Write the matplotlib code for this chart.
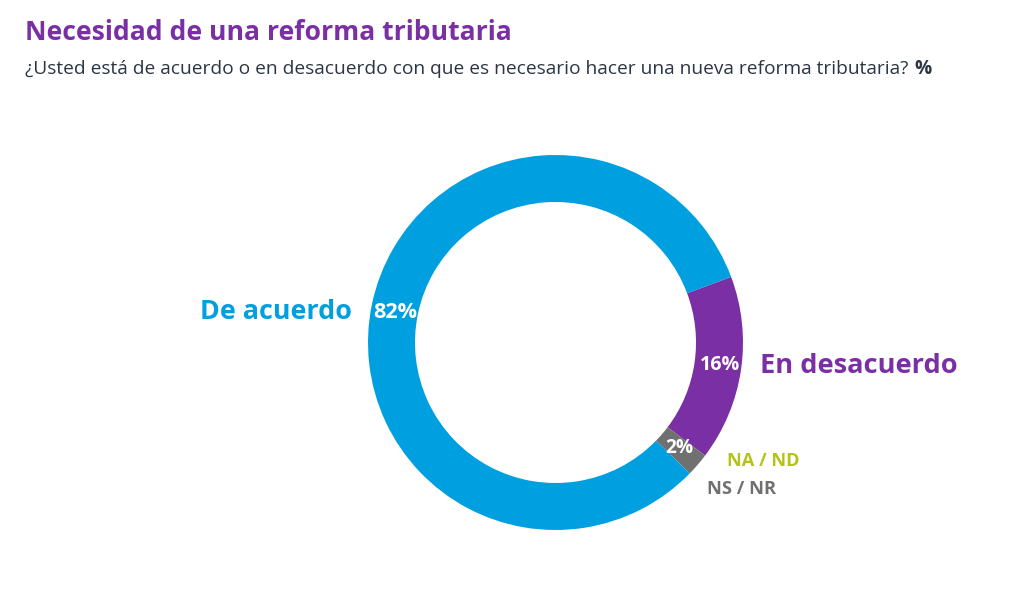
import matplotlib
matplotlib.use("Agg")
import matplotlib.pyplot as plt

# Data
categories = ["En desacuerdo", "NA / ND", "NS / NR", "De acuerdo"]
values = [16, 0, 2, 82]
colors = ["#7B2FA5", "#B5C21A", "#707070", "#009FDF"]
title = "Necesidad de una reforma tributaria"
subtitle = "¿Usted está de acuerdo o en desacuerdo con que es necesario hacer una nueva reforma tributaria?"

W, H = 1024, 601
fig = plt.figure(figsize=(W / 100, H / 100), dpi=100)
ax = fig.add_axes([0, 0, 1, 1])

cx, cy = 555.5, H - 342.5
R = 187.5
width = 47

ax.pie(values, colors=colors, startangle=20.5, counterclock=False,
       center=(cx, cy), radius=R, wedgeprops=dict(width=width, linewidth=0))
ax.set_xlim(0, W)
ax.set_ylim(0, H)
ax.set_aspect("equal")
ax.axis("off")

renderer = fig.canvas.get_renderer()

def py(y):
    return H - y

def fit(x, y, s, target_w, size, ha="left", **kw):
    t = ax.text(x, py(y), s, fontsize=size, ha=ha, va="center", **kw)
    w = t.get_window_extent(renderer).width
    t.set_fontsize(size * target_w / w)
    return t

fam = ["Open Sans", "DejaVu Sans"]
fit(25, 33, title, 485, 20, fontweight="bold", color="#7B2FA5", family=fam)
t = fit(25, 69, subtitle, 880, 13, color="#2B3544", family=fam)
bb = t.get_window_extent(renderer)
ax.text(bb.x1 + 6, py(69), "%", fontsize=t.get_fontsize(), fontweight="bold",
        color="#2B3544", family=fam, va="center", ha="left")

lab = dict(family=fam, fontweight="bold")
# Category labels
fit(352, 312, categories[3], 152, 18, ha="right", color=colors[3], **lab)
fit(760, 366, categories[0], 198, 18, ha="left", color=colors[0], **lab)
fit(727, 461, categories[1], 73, 12, ha="left", color=colors[1], **lab)
fit(707, 489, categories[2], 69, 12, ha="left", color=colors[2], **lab)

# Percent labels
fit(395, 312, f"{values[3]}%", 44, 13, ha="center", color="white", **lab)
fit(720, 365, f"{values[0]}%", 40, 13, ha="center", color="white", **lab)
fit(679, 448, f"{values[2]}%", 28, 13, ha="center", color="white", **lab)

fig.savefig("out.png", dpi=100, facecolor="white")
